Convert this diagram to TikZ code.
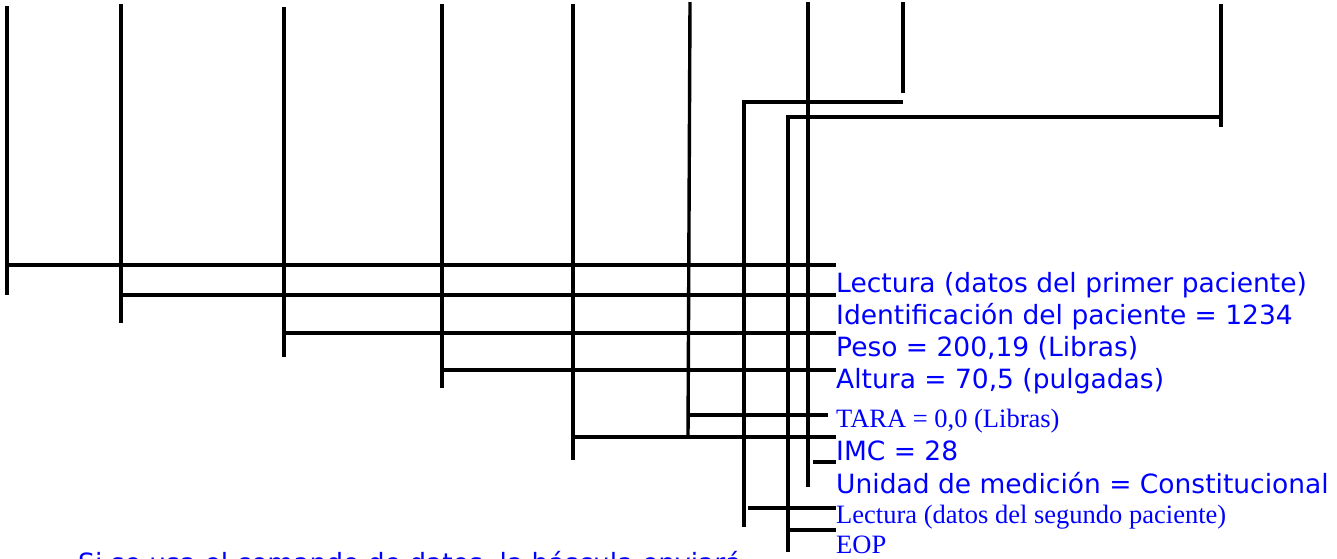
\documentclass[tikz,border=0pt]{standalone}
\usepackage{fontspec}
\setmainfont{Liberation Serif}
\newfontfamily\labelsans{DejaVu Sans}
\usepackage{xcolor}
\definecolor{labelblue}{RGB}{0, 0, 255}
\usepackage{tikz}
\usetikzlibrary{positioning}

\begin{document}
\begin{tikzpicture}[x=1pt, y=-1pt,
        bar/.style={draw=black, line width=3.4pt},
        sanslabel/.style={anchor=base west, inner sep=0pt, text=labelblue, font=\labelsans\fontsize{26.5}{30}\selectfont},
        seriflabel/.style={anchor=base west, inner sep=0pt, text=labelblue, font=\rmfamily\fontsize{26.5}{30}\selectfont}]

        \useasboundingbox (0,0) rectangle (1337,558);

        \node [sanslabel] (lect1) at (836,292) {Lectura (datos del primer paciente)};
        \node [sanslabel] (ident) at (836,324) {Identificación del paciente = 1234};
        \node [sanslabel] (peso) at (836,356) {Peso = 200,19 (Libras)};
        \node [sanslabel] (altura) at (836,388) {Altura = 70,5 (pulgadas)};
        \node [seriflabel] (tara) at (836,427) {TARA = 0,0 (Libras)};
        \node [sanslabel] (imc) at (836,460) {IMC = 28};
        \node [sanslabel] (unidad) at (836,493) {Unidad de medición = Constitucional};
        \node [seriflabel] (lect2) at (836,523) {Lectura (datos del segundo paciente)};
        \node [seriflabel] (eop) at (836,553) {EOP};
        \node [sanslabel] (nota) at (78,572) {Si se usa el comando de datos, la báscula enviará};

        \coordinate (lectTop) at (7,6);
        \coordinate (lectJoin) at (7,265);
        \coordinate (lectBot) at (7,295);
        \coordinate (identTop) at (121,4);
        \coordinate (identJoin) at (121,295);
        \coordinate (identBot) at (121,323);
        \coordinate (pesoTop) at (284,7);
        \coordinate (pesoJoin) at (284,333);
        \coordinate (pesoBot) at (284,357);
        \coordinate (alturaTop) at (442,4);
        \coordinate (alturaJoin) at (442,370);
        \coordinate (alturaBot) at (442,388);
        \coordinate (imcTop) at (573,4);
        \coordinate (imcJoin) at (573,437);
        \coordinate (imcBot) at (573,460);
        \coordinate (taraTop) at (690,2);
        \coordinate (taraBot) at (688,437);
        \coordinate (taraJoin) at (688,415);
        \coordinate (taraEnd) at (828,415);
        \coordinate (lect2Top) at (903,2);
        \coordinate (lect2Tick) at (903,93);
        \coordinate (lect2End) at (903,102);
        \coordinate (lect2Corner) at (744,102);
        \coordinate (lect2Bot) at (744,527);
        \coordinate (lect2Join) at (748,508);
        \coordinate (eopTop) at (1221,4);
        \coordinate (eopTick) at (1221,127);
        \coordinate (eopEnd) at (1221,117);
        \coordinate (eopCorner) at (788,117);
        \coordinate (eopBot) at (788,552);
        \coordinate (eopJoin) at (788,530);
        \coordinate (unidadTop) at (808,2);
        \coordinate (unidadBot) at (808,487);
        \coordinate (unidadJoin) at (813,462);

        \path [bar] (lectTop) -- (lectBot);
        \path [bar] (lectJoin) -- (lect1.west |- lectJoin);
        \path [bar] (identTop) -- (identBot);
        \path [bar] (identJoin) -- (ident.west |- identJoin);
        \path [bar] (pesoTop) -- (pesoBot);
        \path [bar] (pesoJoin) -- (peso.west |- pesoJoin);
        \path [bar] (alturaTop) -- (alturaBot);
        \path [bar] (alturaJoin) -- (altura.west |- alturaJoin);
        \path [bar] (imcTop) -- (imcBot);
        \path [bar] (imcJoin) -- (imc.west |- imcJoin);
        \path [bar] (taraTop) -- (taraBot);
        \path [bar] (taraJoin) -- (taraEnd);
        \path [bar] (lect2Top) -- (lect2Tick);
        \path [bar] (lect2End) -- (lect2Corner) -- (lect2Bot);
        \path [bar] (lect2Join) -- (lect2.west |- lect2Join);
        \path [bar] (eopTop) -- (eopTick);
        \path [bar] (eopEnd) -- (eopCorner) -- (eopBot);
        \path [bar] (eopJoin) -- (eop.west |- eopJoin);
        \path [bar] (unidadTop) -- (unidadBot);
        \path [bar] (unidadJoin) -- (unidad.west |- unidadJoin);
    \end{tikzpicture}
\end{document}
